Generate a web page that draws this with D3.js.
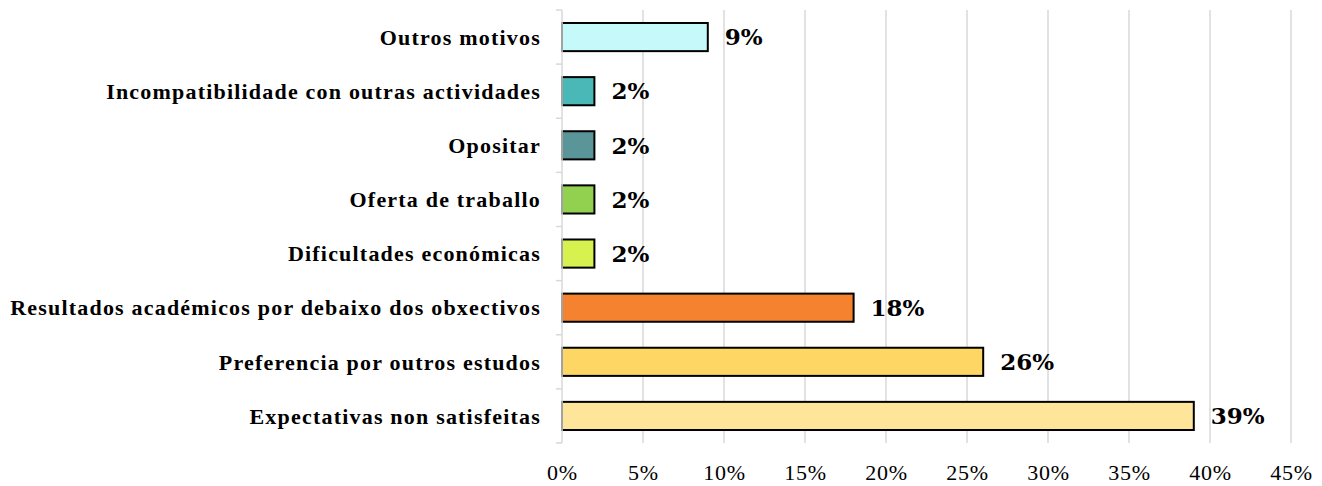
<!DOCTYPE html>
<html lang="gl">
  <head>
    <meta charset="UTF-8" />
    <title>Motivos</title>
    <style>
      body { margin: 0; background: #fff; }
    </style>
  </head>
  <body>
    <svg id="container" width="1322" height="486">
      <g id="grid"></g>
      <g id="body"></g>
      <g id="yAxis"></g>
      <g id="xAxis"></g>
      <g id="labels"></g>
    </svg>
  </body>
  <script src="https://cdn.jsdelivr.net/npm/d3@7"></script>
  <script>
    // data, top to bottom
    const categories = [
      "Outros motivos",
      "Incompatibilidade con outras actividades",
      "Opositar",
      "Oferta de traballo",
      "Dificultades económicas",
      "Resultados académicos por debaixo dos obxectivos",
      "Preferencia por outros estudos",
      "Expectativas non satisfeitas"
    ];
    const values = [9, 2, 2, 2, 2, 18, 26, 39];
    const colors = ["#c6f9f9", "#4bb8b8", "#5a9599", "#92d050", "#d7f24f", "#f4822e", "#fdd663", "#fee599"];
    const xTicks = [0, 5, 10, 15, 20, 25, 30, 35, 40, 45];

    const data = categories.map((c, i) => ({ name: c, value: values[i], color: colors[i] }));

    // scales
    let xScale = d3.scaleLinear().domain([0, 45]).range([562, 1291]);
    let yScale = d3.scaleBand().domain(categories).range([10, 443]).paddingInner(0.48).paddingOuter(0.24);

    // gridlines
    d3.select("#grid")
      .selectAll("line")
      .data(xTicks.slice(1))
      .enter()
      .append("line")
      .attr("x1", (d) => xScale(d))
      .attr("x2", (d) => xScale(d))
      .attr("y1", 10)
      .attr("y2", 443)
      .attr("stroke", "#d9d9d9")
      .attr("stroke-width", 1.5);

    // bars
    d3.select("#body")
      .selectAll("rect")
      .data(data)
      .enter()
      .append("rect")
      .attr("x", xScale(0))
      .attr("y", (d) => yScale(d.name))
      .attr("width", (d) => xScale(d.value) - xScale(0))
      .attr("height", yScale.bandwidth())
      .attr("fill", (d) => d.color)
      .attr("stroke", "#000")
      .attr("stroke-width", 2);

    // y axis: gray line with ticks between categories
    let yAxisG = d3.select("#yAxis");
    yAxisG.append("line")
      .attr("x1", xScale(0)).attr("x2", xScale(0))
      .attr("y1", 10).attr("y2", 443)
      .attr("stroke", "#d9d9d9").attr("stroke-width", 1.5);
    const step = yScale.step();
    yAxisG.selectAll("line.tick")
      .data(d3.range(categories.length + 1))
      .enter()
      .append("line")
      .attr("class", "tick")
      .attr("x1", xScale(0) - 6).attr("x2", xScale(0))
      .attr("y1", (d) => 10 + d * step).attr("y2", (d) => 10 + d * step)
      .attr("stroke", "#d9d9d9").attr("stroke-width", 1.5);
    yAxisG.selectAll("text")
      .data(categories)
      .enter()
      .append("text")
      .attr("x", 541)
      .attr("y", (d) => yScale(d) + yScale.bandwidth() / 2)
      .attr("dy", "0.35em")
      .attr("text-anchor", "end")
      .style("font-family", "'Liberation Serif', serif")
      .style("font-weight", "bold")
      .style("font-size", "22px")
      .style("letter-spacing", "1.2px")
      .text((d) => d);

    // x axis
    let xAxis = d3.axisBottom(xScale).tickValues(xTicks).tickSize(0).tickPadding(21).tickFormat((d) => d + "%");
    d3.select("#xAxis").attr("transform", "translate(0,443)").call(xAxis);
    d3.select("#xAxis").select(".domain").remove();
    d3.select("#xAxis").selectAll("text")
      .style("font-family", "'Liberation Serif', serif")
      .style("font-size", "22px")
      .style("letter-spacing", "0.8px")
      .attr("fill", "#000");

    // value labels
    d3.select("#labels")
      .selectAll("text")
      .data(data)
      .enter()
      .append("text")
      .attr("x", (d) => xScale(d.value) + 17)
      .attr("y", (d) => yScale(d.name) + yScale.bandwidth() / 2)
      .attr("dy", "0.36em")
      .style("font-family", "'DejaVu Serif', serif")
      .style("font-weight", "bold")
      .style("font-size", "23px")
      .text((d) => d.value + "%");
  </script>
</html>
